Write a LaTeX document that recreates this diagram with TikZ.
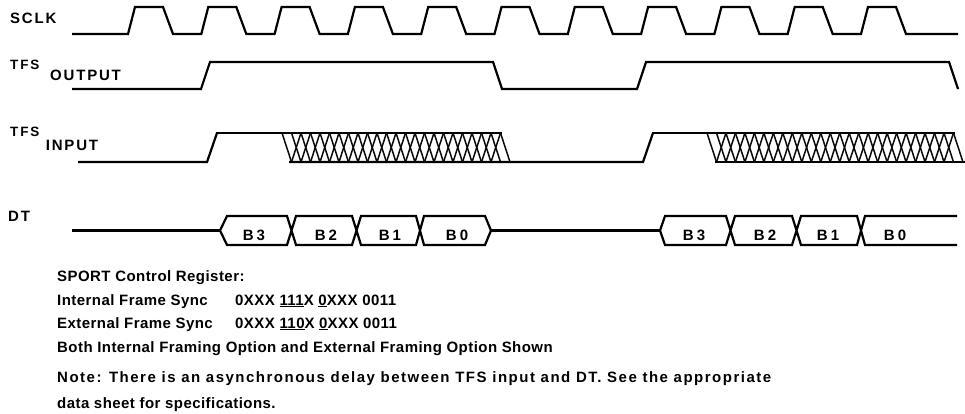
\documentclass[tikz,border=0pt]{standalone}
\usepackage{fontspec}
\setmainfont{Liberation Sans}
\newfontfamily\sigfont[LetterSpace=12]{Liberation Sans}
\newfontfamily\tfsfont[LetterSpace=14]{Liberation Sans}
\newfontfamily\busfont[LetterSpace=20]{Liberation Sans}
\newfontfamily\notefont[LetterSpace=3]{Liberation Sans}
\newfontfamily\widenotefont[LetterSpace=10]{Liberation Sans}
\definecolor{mywave}{RGB}{0,0,0}
\definecolor{myhatch}{RGB}{10,10,10}
\tikzset{
  sigline/.style={draw=mywave, line width=2.2pt, line join=miter},
  highline/.style={draw=mywave, line width=2.9pt},
  hatchline/.style={draw=myhatch, line width=1.5pt},
  siglabel/.style={anchor=base west, inner sep=0pt,
    font=\sigfont\bfseries\fontsize{15}{18}\selectfont},
  tfslabel/.style={anchor=base west, inner sep=0pt,
    font=\tfsfont\bfseries\fontsize{13.5}{16}\selectfont},
  buslabel/.style={anchor=base, inner sep=0pt,
    font=\busfont\bfseries\fontsize{15}{18}\selectfont},
  notetext/.style={anchor=base west, inner sep=0pt,
    font=\notefont\bfseries\fontsize{15}{18}\selectfont}
}

\begin{document}
\begin{tikzpicture}[x=1pt, y=-1pt]
  \useasboundingbox (0,0) rectangle (965,414);

  % SCLK
  \node[siglabel] (sclk) at (10,24) {SCLK};
  \draw[sigline] (72,34)
    \foreach \k in {0,...,10}{
      -- ({128+73.3*\k},34) -- ({135+73.3*\k},7)
      -- ({163+73.3*\k},7) -- ({173+73.3*\k},34)}
    -- (958,34);

  % TFS output
  \node[tfslabel] (tfsout) at (10,70) {TFS};
  \node[siglabel] (output) at (50,80.7) {OUTPUT};
  \draw[sigline] (72,89) -- (201,89) -- (210,62) -- (493,62) -- (502,89)
    -- (637,89) -- (646,62) -- (949,62) -- (958,89);
  \draw[highline] (210,62) -- (493,62);
  \draw[highline] (646,62) -- (949,62);

  % TFS input
  \node[tfslabel] (tfsin) at (10,136.7) {TFS};
  \node[siglabel] (input) at (45.7,150.7) {INPUT};
  \draw[sigline] (78,162) -- (207,162) -- (217,133);
  \draw[highline] (216,133) -- (502,133);
  \draw[sigline] (289,162) -- (643,162) -- (653,133);
  \draw[highline] (652,133) -- (955,133);
  \draw[sigline] (715,162) -- (965,162);
  \foreach \k in {0,...,23}
    \draw[hatchline] ({282+9.5*\k},133) -- ({291.5+9.5*\k},162);
  \foreach \k in {2,...,23}
    \draw[hatchline] ({282+9.5*\k},133) -- ({272.5+9.5*\k},162);
  \foreach \k in {0,...,26}
    \draw[hatchline] ({707+9.48*\k},133) -- ({716.48+9.48*\k},162);
  \foreach \k in {2,...,26}
    \draw[hatchline] ({707+9.48*\k},133) -- ({697.52+9.48*\k},162);

  % DT
  \node[siglabel] (dt) at (8,221) {DT};
  \draw[sigline] (72,230.5) -- (220,230.5);
  \draw[sigline] (220,230.5) -- (227,216) -- (287,216) -- (296,245) -- (352,245)
    -- (361,216) -- (416,216) -- (424,245) -- (485,245) -- (491,230.5)
    -- (485,216) -- (424,216) -- (416,245) -- (361,245) -- (352,216)
    -- (296,216) -- (287,245) -- (227,245) -- cycle;
  \draw[sigline] (491,230.5) -- (660,230.5);
  \draw[sigline] (957,216) -- (865,216) -- (857,245) -- (801,245) -- (792,216)
    -- (735,216) -- (726,245) -- (665,245) -- (660,230.5) -- (665,216)
    -- (726,216) -- (735,245) -- (792,245) -- (801,216) -- (857,216)
    -- (865,245) -- (957,245);
  \node[buslabel] (b3a) at (254,240) {B3};
  \node[buslabel] (b2a) at (326,240) {B2};
  \node[buslabel] (b1a) at (390,240) {B1};
  \node[buslabel] (b0a) at (457,240) {B0};
  \node[buslabel] (b3b) at (694,240) {B3};
  \node[buslabel] (b2b) at (765,240) {B2};
  \node[buslabel] (b1b) at (828,240) {B1};
  \node[buslabel] (b0b) at (895,240) {B0};

  % Notes
  \node[notetext] (reg) at (57,281) {SPORT Control Register:};
  \node[notetext] (intfs) at (57,305) {Internal Frame Sync};
  \node[notetext] (intval) at (235,305) {0XXX \underline{111}X \underline{0}XXX 0011};
  \node[notetext] (extfs) at (57,328) {External Frame Sync};
  \node[notetext] (extval) at (235,328) {0XXX \underline{110}X \underline{0}XXX 0011};
  \node[notetext] (both) at (57,352) {Both Internal Framing Option and External Framing Option Shown};
  \node[notetext, font=\widenotefont\bfseries\fontsize{15}{18}\selectfont] (note) at (57,382)
    {Note: There is an asynchronous delay between TFS input and DT. See the appropriate};
  \node[notetext] (sheet) at (57,408.7) {data sheet for specifications.};
\end{tikzpicture}
\end{document}
